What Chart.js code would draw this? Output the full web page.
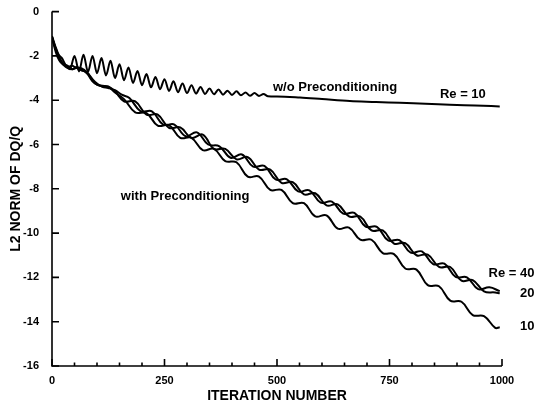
<!DOCTYPE html>
<html><head><meta charset="utf-8">
<script src="https://cdn.jsdelivr.net/npm/chart.js@4/dist/chart.umd.min.js"></script>
<style>html,body{margin:0;padding:0;background:#fff;}canvas{display:block}</style>
</head><body>
<canvas id="c" width="544" height="405"></canvas>
<script>
// ---- data ----
const iterWo = [0,8,15,22,30,40,50,60,70,80,90,100,110,120,130,140,150,160,170,180,190,200,210,220,230,240,250,260,270,280,290,300,310,320,330,340,350,360,370,380,390,400,410,420,430,440,450,460,470,480,500,551,600,662,720,773,830,884,940,995];
const valWo = [-1.1,-1.6,-1.95,-2.1,-2.4,-2.6,-2.0,-2.7,-1.95,-2.72,-2.0,-2.78,-2.1,-2.88,-2.22,-3.0,-2.38,-3.1,-2.52,-3.22,-2.68,-3.32,-2.82,-3.42,-2.95,-3.5,-3.05,-3.58,-3.15,-3.64,-3.25,-3.68,-3.33,-3.7,-3.4,-3.72,-3.47,-3.73,-3.52,-3.75,-3.57,-3.76,-3.6,-3.78,-3.65,-3.8,-3.68,-3.81,-3.72,-3.82,-3.83,-3.88,-3.95,-4.04,-4.08,-4.12,-4.16,-4.2,-4.24,-4.28];

const iterRe10 = [0,8,16,25,35,45,55,65,78,90,100,112,125,140,160,185,210,235,260,285,310,335,360,385,410,435,460,485,510,535,560,585,610,635,660,685,710,735,760,785,810,835,860,885,910,935,960,985,995];
const valRe10 = [-1.15,-1.7,-2.1,-2.35,-2.5,-2.45,-2.55,-2.55,-2.75,-3.1,-3.3,-3.38,-3.4,-3.65,-3.95,-4.55,-4.58,-5.15,-5.13,-5.7,-5.7,-6.25,-6.2,-6.75,-6.8,-7.45,-7.45,-8.05,-8.05,-8.65,-8.65,-9.25,-9.2,-9.8,-9.75,-10.3,-10.3,-10.9,-10.95,-11.6,-11.65,-12.35,-12.4,-13.05,-13.1,-13.7,-13.75,-14.28,-14.25];

const iterRe20 = [0,8,16,25,35,45,55,65,78,90,100,112,125,140,160,185,210,235,260,285,310,335,360,385,410,435,460,485,510,535,560,585,610,635,660,685,710,735,760,785,810,835,860,885,910,935,960,985,995];
const valRe20 = [-1.15,-1.65,-2.05,-2.35,-2.45,-2.6,-2.5,-2.6,-2.8,-3.15,-3.3,-3.35,-3.38,-3.6,-4.05,-4.05,-4.65,-4.65,-5.25,-5.23,-5.7,-5.55,-6.2,-6.2,-6.67,-6.57,-7.13,-7.13,-7.73,-7.7,-8.25,-8.2,-8.75,-8.7,-9.25,-9.25,-9.88,-9.88,-10.47,-10.45,-11.0,-10.97,-11.53,-11.53,-12.15,-12.12,-12.63,-12.68,-12.72];

const iterRe40 = [0,8,16,25,35,45,55,65,78,90,100,112,125,140,155,172,197,222,247,272,297,322,347,372,397,422,447,472,497,522,547,572,597,622,647,672,697,722,747,772,797,822,847,872,897,922,947,972,995];
const valRe40 = [-1.15,-1.8,-2.2,-2.4,-2.55,-2.6,-2.55,-2.65,-2.75,-3.05,-3.25,-3.4,-3.45,-3.55,-3.75,-3.9,-4.5,-4.5,-5.1,-5.1,-5.63,-5.45,-6.0,-6.08,-6.6,-6.45,-7.0,-6.97,-7.58,-7.57,-8.12,-8.07,-8.62,-8.58,-9.12,-9.09,-9.71,-9.72,-10.33,-10.32,-10.88,-10.83,-11.4,-11.38,-11.98,-12.0,-12.53,-12.45,-12.62];

const xTickValues = [0,250,500,750,1000];
const xMinorStep = 50;
const yTickValues = [0,-2,-4,-6,-8,-10,-12,-14,-16];
const xAxisTitle = 'ITERATION NUMBER';
const yAxisTitle = 'L2 NORM OF DQ/Q';
const curveLabels = [
  {text:'w/o Preconditioning', x:491, y:-3.42, align:'left'},
  {text:'Re = 10', x:862, y:-3.73, align:'left'},
  {text:'with Preconditioning', x:153, y:-8.35, align:'left'},
  {text:'Re = 40', x:1072, y:-11.8, align:'right'},
  {text:'20', x:1072, y:-12.72, align:'right'},
  {text:'10', x:1072, y:-14.2, align:'right'}
];

// ---- chart ----
const FONT = "'Liberation Sans', Arial, Helvetica, sans-serif";
const pts = (xs, ys) => xs.map((x, i) => ({x: x, y: ys[i]}));
const woStyle = {borderColor:'#000', borderWidth:2, pointRadius:0, cubicInterpolationMode:'monotone', fill:false};
const preStyle = {borderColor:'#000', borderWidth:2, pointRadius:0, tension:0.4, fill:false};

const axesPlugin = {
  id: 'axesPlugin',
  afterDraw(chart) {
    const ctx = chart.ctx, x = chart.scales.x, y = chart.scales.y;
    ctx.save();
    ctx.strokeStyle = '#000';
    ctx.lineWidth = 1.6;
    const x0 = x.getPixelForValue(0), x1 = x.getPixelForValue(1000);
    const yTop = y.getPixelForValue(0), yBot = y.getPixelForValue(-16);
    ctx.beginPath();
    ctx.moveTo(x0, yTop); ctx.lineTo(x0, yBot); ctx.lineTo(x1, yBot);
    ctx.stroke();
    ctx.beginPath();
    for (const v of yTickValues) {
      const p = y.getPixelForValue(v);
      ctx.moveTo(x0, p); ctx.lineTo(x0 + 7, p);
    }
    for (let v = 0; v <= 1000; v += xMinorStep) {
      const p = x.getPixelForValue(v);
      const len = (v % 250 === 0) ? 7 : 3.5;
      ctx.moveTo(p, yBot); ctx.lineTo(p, yBot - len);
    }
    ctx.stroke();
    ctx.fillStyle = '#000';
    ctx.font = 'bold 13px ' + FONT;
    ctx.textBaseline = 'middle';
    for (const l of curveLabels) {
      ctx.textAlign = l.align;
      ctx.fillText(l.text, x.getPixelForValue(l.x), y.getPixelForValue(l.y));
    }
    ctx.restore();
  }
};

new Chart(document.getElementById('c'), {
  type: 'line',
  data: {
    datasets: [
      Object.assign({label:'w/o Preconditioning, Re = 10', data: pts(iterWo, valWo)}, woStyle),
      Object.assign({label:'Re = 10', data: pts(iterRe10, valRe10)}, preStyle),
      Object.assign({label:'Re = 20', data: pts(iterRe20, valRe20)}, preStyle),
      Object.assign({label:'Re = 40', data: pts(iterRe40, valRe40)}, preStyle)
    ]
  },
  options: {
    responsive: false,
    animation: false,
    layout: {padding: {top: 10, right: 42, left: 0, bottom: 0}},
    plugins: {legend: {display: false}, tooltip: {enabled: false}},
    scales: {
      x: {
        type: 'linear', min: 0, max: 1000,
        afterBuildTicks: s => { s.ticks = xTickValues.map(v => ({value: v})); },
        ticks: {font: {family: FONT, size: 11, weight: 'bold'}, color: '#000', padding: 0, maxRotation: 0, autoSkip: false, callback: v => String(v)},
        grid: {display: false}, border: {display: false},
        title: {display: true, text: xAxisTitle, color: '#000', font: {family: FONT, size: 14, weight: 'bold'}, padding: {top: 0, bottom: 0}},
        afterFit: s => { s.height = 39; }
      },
      y: {
        type: 'linear', min: -16, max: 0,
        afterBuildTicks: s => { s.ticks = yTickValues.map(v => ({value: v})); },
        ticks: {font: {family: FONT, size: 11, weight: 'bold'}, color: '#000', padding: 5, autoSkip: false, callback: v => String(v)},
        grid: {display: false}, border: {display: false},
        title: {display: true, text: yAxisTitle, color: '#000', font: {family: FONT, size: 14, weight: 'bold'}, padding: {top: 8, bottom: 0}},
        afterFit: s => { s.width = 52; }
      }
    }
  },
  plugins: [axesPlugin]
});
</script>
</body></html>
